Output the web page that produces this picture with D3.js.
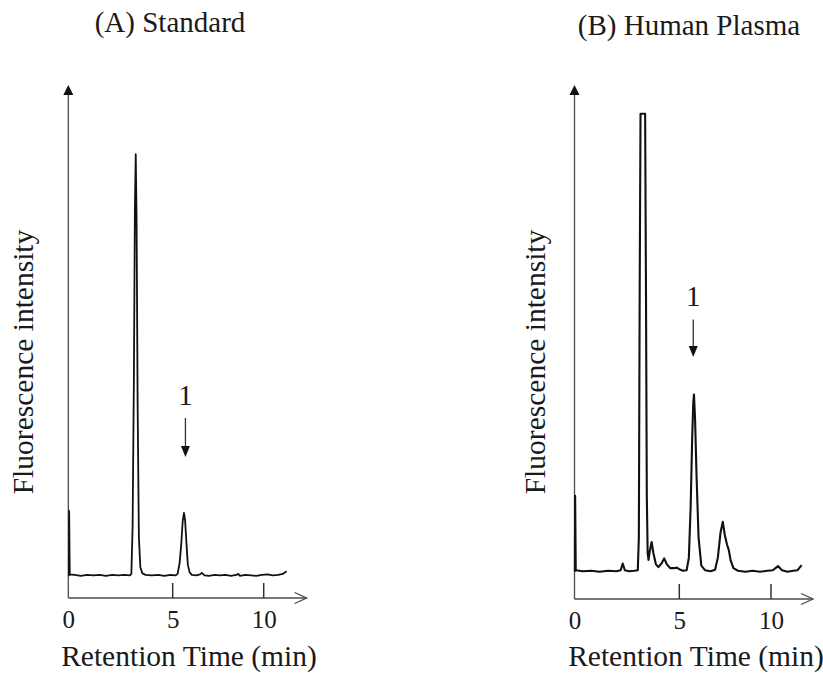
<!DOCTYPE html>
<html>
<head>
<meta charset="utf-8">
<script src="https://cdn.jsdelivr.net/npm/d3@7"></script>
<style>
  body { margin: 0; background: #fff; }
  svg text { font-family: "Liberation Serif", "Times New Roman", serif; fill: #1a1a1a; }
</style>
</head>
<body>
<script>
// chromatogram traces: retention time (min) and fluorescence (arbitrary units, 0 = x axis)
var timeA = [0, 0.03, 0.04, 0.07, 0.3, 0.6, 0.9, 1.2, 1.5, 1.8, 2.1, 2.4, 2.7, 2.95,
  3.02, 3.08, 3.14, 3.19, 3.23, 3.27, 3.32, 3.38, 3.45, 3.55, 3.7, 4.0, 4.3, 4.6, 4.9, 5.15,
  5.27, 5.38, 5.47, 5.55, 5.62, 5.68, 5.75, 5.83, 5.93, 6.05, 6.3, 6.5, 6.6, 6.75, 7.0, 7.3,
  7.6, 7.9, 8.2, 8.5, 8.6, 8.7, 9.0, 9.3, 9.6, 9.9, 10.2, 10.5, 10.8, 11.05, 11.26];
var fluorA = [4.4, 4.4, 17.0, 4.6, 4.5, 4.3, 4.5, 4.4, 4.5, 4.3, 4.5, 4.4, 4.5, 4.4,
  4.7, 14, 42, 76, 86.5, 74, 38, 12, 6, 4.8, 4.5, 4.4, 4.5, 4.3, 4.5, 4.4,
  4.7, 6.8, 10.5, 15, 16.6, 15.2, 11, 6.5, 5.0, 4.5, 4.4, 4.6, 4.9, 4.4, 4.3, 4.5,
  4.4, 4.5, 4.3, 4.5, 4.7, 4.3, 4.5, 4.4, 4.3, 4.5, 4.6, 4.4, 4.5, 4.7, 5.2];

var timeB = [0, 0.02, 0.03, 0.06, 0.4, 0.8, 1.2, 1.6, 2.0, 2.2, 2.3, 2.4, 2.6, 2.85,
  3.02, 3.07, 3.11, 3.15, 3.37, 3.41, 3.45, 3.49, 3.53, 3.6, 3.68, 3.76, 3.88, 4.0, 4.15,
  4.28, 4.4, 4.56, 4.75, 4.88, 5.0, 5.2, 5.4, 5.52, 5.62, 5.7, 5.76, 5.8, 5.86, 5.94, 6.05,
  6.2, 6.4, 6.7, 6.95, 7.1, 7.25, 7.37, 7.48, 7.6, 7.7, 7.8, 7.95, 8.2, 8.6, 9.0, 9.4, 9.8,
  10.1, 10.38, 10.6, 10.9, 11.2, 11.45, 11.67];
var fluorB = [5.45, 5.45, 20.1, 5.6, 5.4, 5.5, 5.3, 5.5, 5.4, 5.6, 6.9, 5.6, 5.4, 5.5,
  5.6, 12, 60, 94.4, 94.4, 60, 20, 9, 7.6, 9.5, 11.1, 9, 6.8, 6.2, 6.9,
  7.9, 6.8, 6.0, 6.0, 6.1, 5.8, 5.5, 5.6, 8, 18, 31, 38, 39.8, 35, 24, 12,
  6.5, 5.6, 5.4, 5.7, 8, 13, 15.0, 12.5, 10.6, 9.5, 7.5, 6.0, 5.5, 5.3, 5.5, 5.3, 5.5,
  5.6, 6.4, 5.6, 5.3, 5.5, 5.6, 6.6];

var tickValues = [0, 5, 10];
var panelTitles = ['(A) Standard', '(B) Human Plasma'];
var xTitle = 'Retention Time (min)';
var yTitle = 'Fluorescence intensity';

// peak "1" marker: time, label level, arrow start and arrow tip (same units as the traces)
var markerText = '1';
var markerTime = [5.7, 5.76];
var markerLabel = [37.6, 57.1];
var markerFrom = [35.1, 54.4];
var markerTo = [27.5, 47.1];

var width = 823, height = 673;
var svg = d3.select('body').append('svg').attr('width', width).attr('height', height);

// the original plot has uneven spacing between 0, 5 and 10, so use a piecewise scale
var layout = [
  { time: timeA, fluor: fluorA, xRange: [68.3, 172.7, 263.7], yRange: [598, 85], xEnd: 12.36,
    titleX: 170, titleY: 31.5, yLabX: 33, xLabX: 189, traceWidth: 1.8 },
  { time: timeB, fluor: fluorB, xRange: [574.5, 679.3, 771], yRange: [599, 85], xEnd: 12.29,
    titleX: 689, titleY: 35, yLabX: 545, xLabX: 696, traceWidth: 2.1 }
];

var axisColor = '#4a4a4a';
var labelSize = '29.5px';

layout.forEach(function (p, i) {
  var x = d3.scaleLinear().domain(tickValues).range(p.xRange);
  var y = d3.scaleLinear().domain([0, 100]).range(p.yRange);
  var g = svg.append('g');
  var x0 = x(0), y0 = y(0), yTop = y(100), xTip = x(p.xEnd);

  // y axis with filled arrow head
  g.append('line')
    .attr('x1', x0).attr('x2', x0).attr('y1', y0).attr('y2', yTop + 8)
    .attr('stroke', axisColor).attr('stroke-width', 1.3);
  g.append('path')
    .attr('d', 'M' + x0 + ',' + yTop + 'L' + (x0 - 5) + ',' + (yTop + 10) + 'L' + (x0 + 5) + ',' + (yTop + 10) + 'Z')
    .attr('fill', '#111');

  // x axis with open arrow head
  g.append('line')
    .attr('x1', x0).attr('x2', xTip).attr('y1', y0).attr('y2', y0)
    .attr('stroke', axisColor).attr('stroke-width', 1.3);
  g.append('path')
    .attr('d', 'M' + (xTip - 12) + ',' + (y0 - 5.5) + 'L' + xTip + ',' + y0 + 'L' + (xTip - 12) + ',' + (y0 + 5.5))
    .attr('fill', 'none').attr('stroke', axisColor).attr('stroke-width', 1.3);

  // tick labels from the axis generator, tick marks drawn upward from the axis line
  var axis = d3.axisBottom(x).tickValues(tickValues).tickSize(0).tickPadding(12);
  var ax = g.append('g').attr('transform', 'translate(0,' + y0 + ')').call(axis);
  ax.select('.domain').remove();
  ax.selectAll('.tick text')
    .style('font-family', '"Liberation Serif", "Times New Roman", serif')
    .style('font-size', '25px').attr('fill', '#1a1a1a');

  g.selectAll('line.xtick')
    .data(tickValues.filter(function (d) { return d > 0; }))
    .enter().append('line')
    .attr('class', 'xtick')
    .attr('x1', function (d) { return x(d); }).attr('x2', function (d) { return x(d); })
    .attr('y1', y0).attr('y2', y0 - 15)
    .attr('stroke', '#333').attr('stroke-width', 1.5);

  // trace
  var pts = d3.zip(p.time, p.fluor);
  var line = d3.line().x(function (d) { return x(d[0]); }).y(function (d) { return y(d[1]); });
  g.append('path').datum(pts)
    .attr('d', line)
    .attr('fill', 'none').attr('stroke', '#111').attr('stroke-width', p.traceWidth)
    .attr('stroke-linejoin', 'round');

  // peak marker
  var mx = x(markerTime[i]);
  g.append('text')
    .attr('x', mx).attr('y', y(markerLabel[i]))
    .attr('text-anchor', 'middle').style('font-size', '29px')
    .text(markerText);
  g.append('line')
    .attr('x1', mx).attr('x2', mx).attr('y1', y(markerFrom[i])).attr('y2', y(markerTo[i]) - 8)
    .attr('stroke', '#333').attr('stroke-width', 1.3);
  var tipY = y(markerTo[i]);
  g.append('path')
    .attr('d', 'M' + mx + ',' + tipY + 'L' + (mx - 4.5) + ',' + (tipY - 11) + 'L' + (mx + 4.5) + ',' + (tipY - 11) + 'Z')
    .attr('fill', '#111');

  // titles
  g.append('text')
    .attr('x', p.titleX).attr('y', p.titleY)
    .attr('text-anchor', 'middle').style('font-size', '29px')
    .text(panelTitles[i]);
  g.append('text')
    .attr('x', p.xLabX).attr('y', 666)
    .attr('text-anchor', 'middle').style('font-size', labelSize)
    .text(xTitle);
  g.append('text')
    .attr('transform', 'translate(' + p.yLabX + ',362) rotate(-90)')
    .attr('text-anchor', 'middle').style('font-size', labelSize)
    .text(yTitle);
});
</script>
</body>
</html>
